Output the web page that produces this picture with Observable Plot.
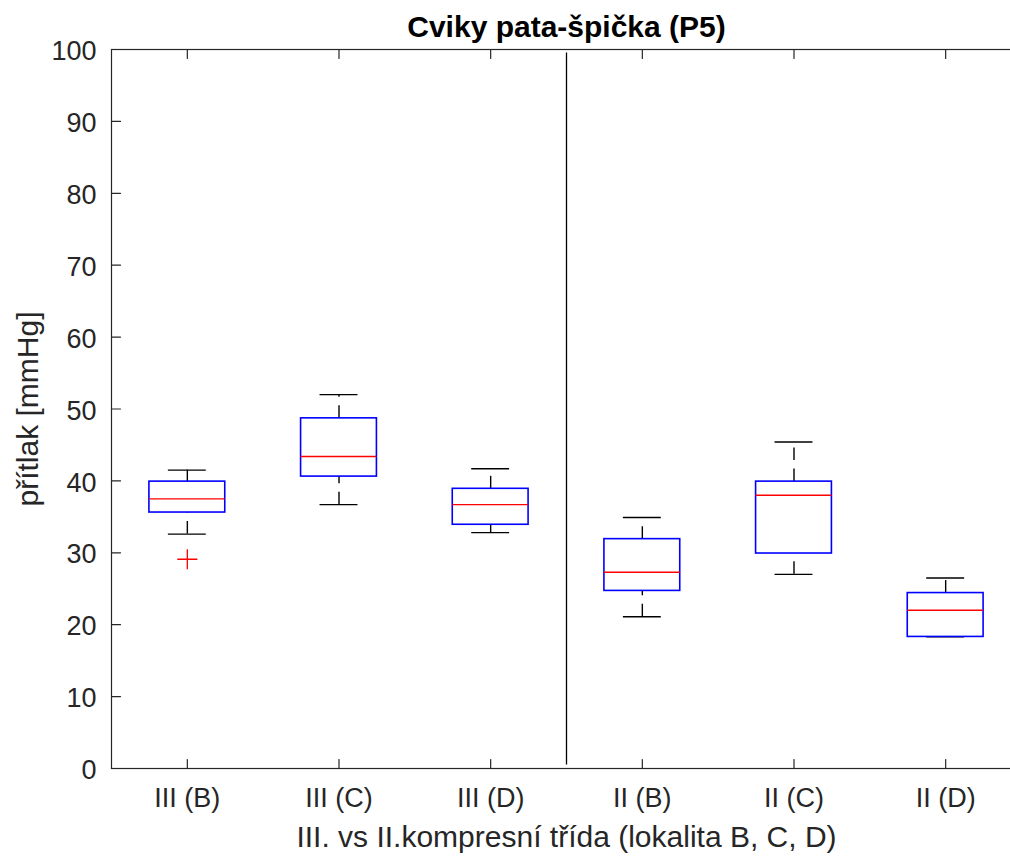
<!DOCTYPE html>
<html>
<head>
<meta charset="utf-8">
<script src="https://cdn.jsdelivr.net/npm/d3@7"></script>
<script src="https://cdn.jsdelivr.net/npm/@observablehq/plot@0.6"></script>
<style>
  html, body { margin: 0; padding: 0; background: #fff; overflow: hidden; }
</style>
</head>
<body>
<div id="chart"></div>
<script>
// ---- data ----
const categories  = ["III (B)", "III (C)", "III (D)", "II (B)", "II (C)", "II (D)"];
const whiskerLow  = [32.6, 36.7, 32.8, 21.1, 27.0, 18.3];
const q1          = [35.6, 40.6, 33.9, 24.7, 29.9, 18.3];
const median      = [37.5, 43.4, 36.7, 27.3, 38.0, 22.0];
const q3          = [39.9, 48.7, 38.9, 31.9, 39.9, 24.4];
const whiskerHigh = [41.5, 52.0, 41.7, 34.9, 45.4, 26.5];
const outlierCategory = ["III (B)"];
const outlierValue    = [29.1];
const yTicks = [0, 10, 20, 30, 40, 50, 60, 70, 80, 90, 100];
const dividerAfter = "III (D)";
const titleText = "Cviky pata-špička (P5)";
const xLabelText = "III. vs II.kompresní třída (lokalita B, C, D)";
const yLabelText = "přítlak [mmHg]";

// ---- derived tables ----
const pos = c => categories.indexOf(c) + 1;
const xTicks = categories.map(pos);
const rows = categories.map((c, i) => ({
  pos: i + 1, lo: whiskerLow[i], q1: q1[i], med: median[i], q3: q3[i], hi: whiskerHigh[i]
}));
const outliers = outlierCategory.map((c, i) => ({pos: pos(c), value: outlierValue[i]}));
const dividerX = pos(dividerAfter) + 0.5;

// ---- style ----
const axisColor = "#262626";
const boxColor = "#0000ff";
const medColor = "#ff0000";
const halfBox = 0.25, halfCap = 0.125;
const font = "'Liberation Sans', Arial, Helvetica, sans-serif";
const tickShape = {draw(context, l) { context.moveTo(0, 0); context.lineTo(0, -l); }};

const chart = Plot.plot({
  width: 1010,
  height: 856,
  marginLeft: 111,
  marginRight: -11,
  marginTop: 49,
  marginBottom: 88,
  style: {fontFamily: font, fontSize: "27px", color: axisColor, background: "#fff", overflow: "hidden"},
  x: {domain: [0.5, categories.length + 0.5], axis: null},
  y: {domain: [0, 100], axis: null},
  marks: [
    // axes box
    Plot.frame({stroke: axisColor, strokeWidth: 1.2}),
    // inward ticks
    Plot.vector(yTicks, {x: () => 0.5, y: d => d, length: 9, rotate: 90, anchor: "start", shape: tickShape, stroke: axisColor, strokeWidth: 1.2}),
    Plot.vector(xTicks, {x: d => d, y: () => 0, length: 9, rotate: 0, anchor: "start", shape: tickShape, stroke: axisColor, strokeWidth: 1.2}),
    Plot.vector(xTicks, {x: d => d, y: () => 100, length: 9, rotate: 180, anchor: "start", shape: tickShape, stroke: axisColor, strokeWidth: 1.2}),
    // tick labels
    Plot.axisY(yTicks, {tickSize: 0, tickPadding: 15, dy: 2, label: null, fontSize: 27, fill: axisColor}),
    Plot.axisX(xTicks, {tickSize: 0, tickPadding: 19, label: null, fontSize: 27, fill: axisColor, tickFormat: d => categories[d - 1]}),
    // divider
    Plot.ruleX([dividerX], {y1: () => 0.5, y2: () => 99.5, stroke: "#000", strokeWidth: 1.3}),
    // whiskers (dashed)
    Plot.ruleX(rows, {x: "pos", y1: "lo", y2: "q1", stroke: "#000", strokeWidth: 1.4, strokeDasharray: "12.5,8.5"}),
    Plot.ruleX(rows, {x: "pos", y1: "q3", y2: "hi", stroke: "#000", strokeWidth: 1.4, strokeDasharray: "12.5,8.5"}),
    // whisker caps
    Plot.ruleY(rows, {y: "hi", x1: d => d.pos - halfCap, x2: d => d.pos + halfCap, stroke: "#000", strokeWidth: 1.4}),
    Plot.ruleY(rows, {y: "lo", x1: d => d.pos - halfCap, x2: d => d.pos + halfCap, stroke: "#000", strokeWidth: 1.4}),
    // boxes
    Plot.rect(rows, {x1: d => d.pos - halfBox, x2: d => d.pos + halfBox, y1: "q1", y2: "q3", fill: "none", stroke: boxColor, strokeWidth: 1.6}),
    // medians
    Plot.ruleY(rows, {y: "med", x1: d => d.pos - halfBox, x2: d => d.pos + halfBox, stroke: medColor, strokeWidth: 1.4}),
    // outliers
    Plot.dot(outliers, {x: "pos", y: "value", symbol: "plus", r: 6.5, stroke: medColor, strokeWidth: 1.3}),
    // title & labels
    Plot.text([titleText], {frameAnchor: "top", lineAnchor: "middle", dy: -22, fontSize: 30, fontWeight: "bold", fill: "#000"}),
    Plot.text([xLabelText], {frameAnchor: "bottom", lineAnchor: "middle", dy: 69, fontSize: 30, fill: axisColor}),
    Plot.text([yLabelText], {frameAnchor: "left", textAnchor: "middle", lineAnchor: "middle", dx: -83, rotate: -90, fontSize: 30, fill: axisColor})
  ]
});
document.getElementById("chart").appendChild(chart);
</script>
</body>
</html>
